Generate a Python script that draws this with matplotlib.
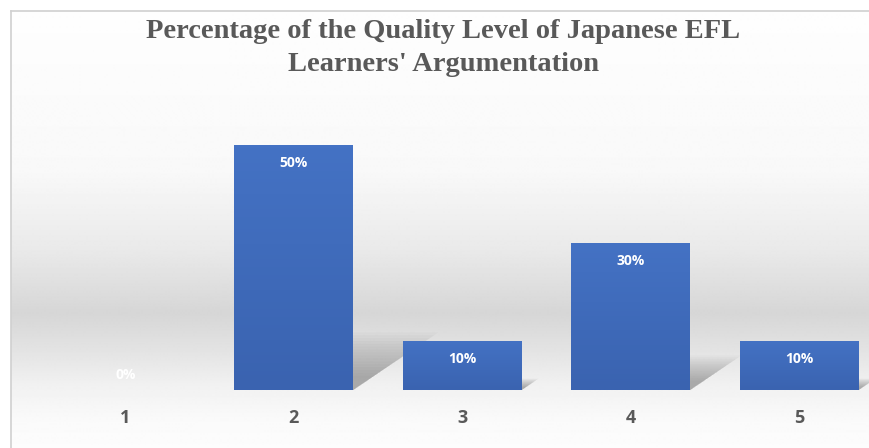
import numpy as np
import matplotlib.pyplot as plt
from matplotlib.patches import Polygon
from matplotlib.lines import Line2D
from matplotlib.colors import LinearSegmentedColormap

# data
levels = ['1', '2', '3', '4', '5']
percent = [0, 50, 10, 30, 10]
title = "Percentage of the Quality Level of Japanese EFL\nLearners' Argumentation"

text_gray = '#595959'
W, H = 870, 448

fig = plt.figure(figsize=(W / 100, H / 100), dpi=100)
fig.patch.set_facecolor('white')

# soft vertical gradient behind the plot (white -> gray band -> white)
bg = fig.add_axes([11 / W, 0, 1 - 11 / W, (H - 11) / H])
rows = np.arange(11, H)
stops_y = [11, 170, 250, 313, 350, 385, 420, 448]
stops_v = [0.995, 0.975, 0.915, 0.84, 0.89, 0.945, 0.98, 0.99]
shade = np.interp(rows, stops_y, stops_v)
grad = np.repeat(shade[:, None], 2, axis=1)
bg.imshow(grad, cmap='gray', vmin=0, vmax=1, aspect='auto',
          extent=[0, 1, 0, 1], interpolation='bilinear')
bg.axis('off')

fig.add_artist(Line2D([11 / W, 11 / W], [0, (H - 11) / H],
                      transform=fig.transFigure, color='#d0d0d0', lw=1.2))
fig.add_artist(Line2D([11 / W, 1], [(H - 11) / H, (H - 11) / H],
                      transform=fig.transFigure, color='#d0d0d0', lw=1.2))

ax = fig.add_axes([41 / W, 58 / H, (W - 41) / W, 294 / H])
ax.patch.set_alpha(0)
x = np.arange(len(levels))
width = 0.705

# perspective shadows cast to the back-right of every bar, layered to look blurred
for xi, v in zip(x, percent):
    if v == 0:
        continue
    xl, xr = xi - width / 2, xi + width / 2
    for k in np.linspace(0.25, 1.0, 16):
        dx = 0.0101 * v * k
        sh = 0.235 * v * k
        poly = Polygon([(xl, 0), (xr, 0), (xr + dx, sh), (xl + dx, sh)],
                       closed=True, facecolor='#5a5a5a', edgecolor='none',
                       alpha=0.035, zorder=1)
        ax.add_patch(poly)

bars = ax.bar(x, percent, width=width, color='#4472C4', zorder=2)

# slight top-to-bottom darkening on each bar
bar_cmap = LinearSegmentedColormap.from_list('barfade', ['#3a63b0', '#4472C4'])
ramp = np.linspace(1, 0, 64)[:, None]
for b in bars:
    if b.get_height() == 0:
        continue
    im = ax.imshow(ramp, cmap=bar_cmap, aspect='auto', zorder=2.5,
                   extent=[b.get_x(), b.get_x() + b.get_width(), 0, b.get_height()])
    im.set_clip_path(b)

for xi, v in zip(x, percent):
    off = 11 if v == 0 else -13
    ax.annotate(f'{v}%', (xi, v), xytext=(0, off), textcoords='offset points',
                ha='center', va='center', color='white', fontsize=10,
                fontweight='bold', family='Open Sans', zorder=3)

ax.set_xlim(-0.5, 4.42)
ax.set_ylim(0, 60)
ax.set_xticks(x)
ax.set_xticklabels(levels, fontsize=13, fontweight='bold', color=text_gray,
                   family='Open Sans')
ax.tick_params(axis='x', length=0, pad=14)
ax.set_yticks([])
for s in ax.spines.values():
    s.set_visible(False)

fig.text(443 / W, 1 - 48 / H, title, ha='center', va='center',
         fontsize=20.5, fontweight='bold', color=text_gray,
         family='Liberation Serif', linespacing=1.38)

fig.savefig('out.png', dpi=100)
